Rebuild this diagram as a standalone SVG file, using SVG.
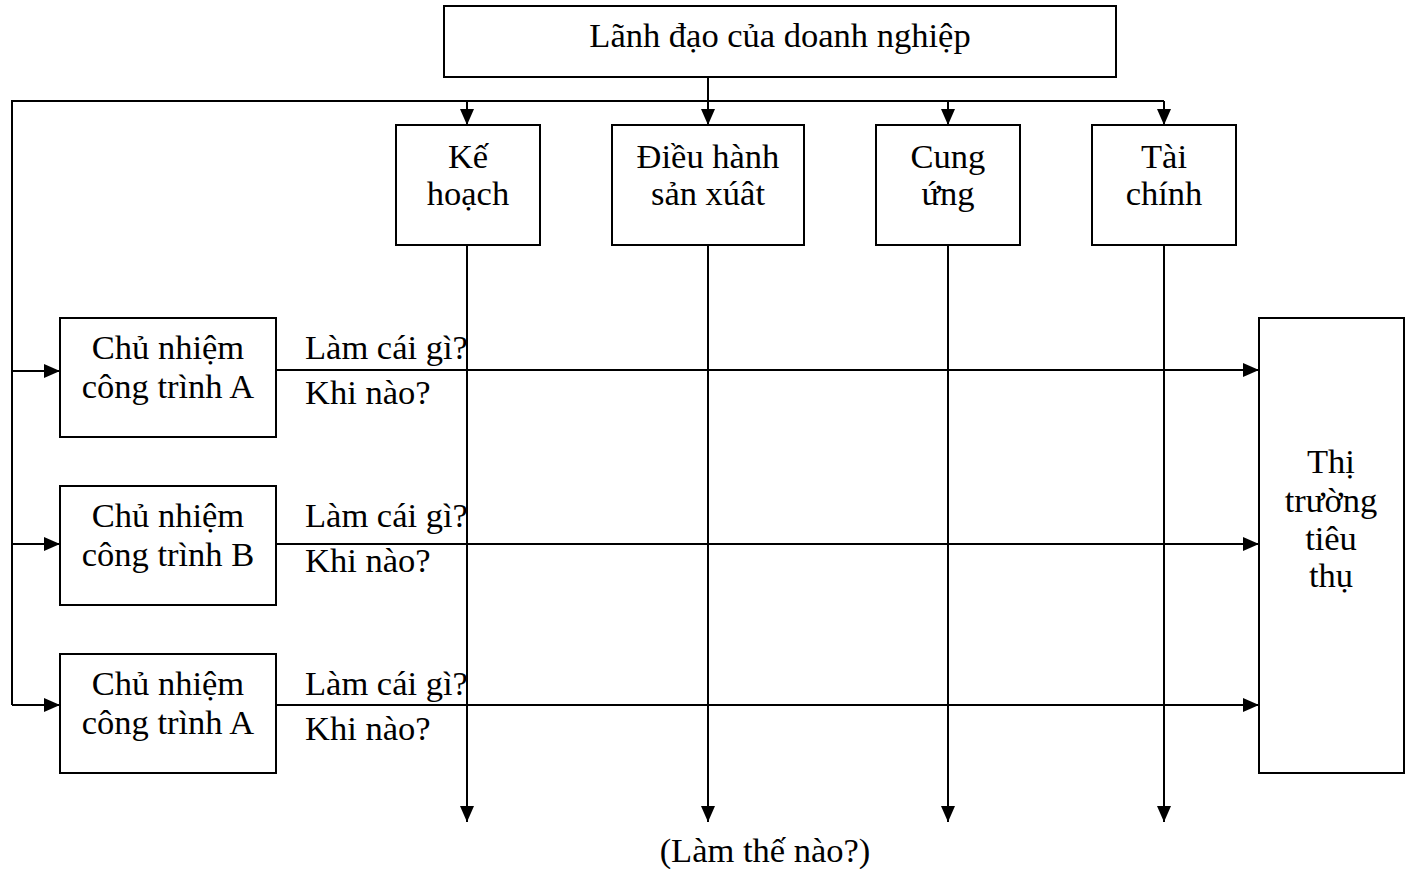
<svg xmlns="http://www.w3.org/2000/svg" width="1411" height="869" viewBox="0 0 1411 869">
<style>
.box{fill:#fff;stroke:#000;stroke-width:2}
.ln{fill:none;stroke:#000;stroke-width:2}
text{font-family:"Liberation Serif","Times New Roman",serif;font-size:34.5px;fill:#000}
.c{text-anchor:middle}
</style>
<defs>
<marker id="ahl" viewBox="0 0 16 14" refX="16" refY="7" markerWidth="16" markerHeight="14" markerUnits="userSpaceOnUse" orient="auto"><path d="M0,0 L16,7 L0,14 Z" fill="#000"/></marker>
</defs>
<rect width="1411" height="869" fill="#fff"/>
<g id="connectors">
<path class="ln" d="M708,77 V101"/>
<path class="ln" d="M12,705 V101 H1164"/>
<path class="ln" d="M467,101 V125" marker-end="url(#ahl)"/>
<path class="ln" d="M708,101 V125" marker-end="url(#ahl)"/>
<path class="ln" d="M948,101 V125" marker-end="url(#ahl)"/>
<path class="ln" d="M1164,101 V125" marker-end="url(#ahl)"/>
<path class="ln" d="M12,371 H60" marker-end="url(#ahl)"/>
<path class="ln" d="M12,544 H60" marker-end="url(#ahl)"/>
<path class="ln" d="M12,705 H60" marker-end="url(#ahl)"/>
<path class="ln" d="M276,370 H1259" marker-end="url(#ahl)"/>
<path class="ln" d="M276,544 H1259" marker-end="url(#ahl)"/>
<path class="ln" d="M276,705 H1259" marker-end="url(#ahl)"/>
<path class="ln" d="M467,245 V822" marker-end="url(#ahl)"/>
<path class="ln" d="M708,245 V822" marker-end="url(#ahl)"/>
<path class="ln" d="M948,245 V822" marker-end="url(#ahl)"/>
<path class="ln" d="M1164,245 V822" marker-end="url(#ahl)"/>
</g>
<g id="lanhdao"><rect class="box" x="444" y="6" width="672" height="71"/><text class="c" x="780" y="47">Lãnh đạo của doanh nghiệp</text></g>
<g id="kehoach"><rect class="box" x="396" y="125" width="144" height="120"/><text class="c" x="468" y="168">Kế</text><text class="c" x="468" y="205">hoạch</text></g>
<g id="dieuhanh"><rect class="box" x="612" y="125" width="192" height="120"/><text class="c" x="708" y="168">Điều hành</text><text class="c" x="708" y="205">sản xúât</text></g>
<g id="cungung"><rect class="box" x="876" y="125" width="144" height="120"/><text class="c" x="948" y="168">Cung</text><text class="c" x="948" y="205">ứng</text></g>
<g id="taichinh"><rect class="box" x="1092" y="125" width="144" height="120"/><text class="c" x="1164" y="168">Tài</text><text class="c" x="1164" y="205">chính</text></g>
<g id="cn1"><rect class="box" x="60" y="318" width="216" height="119"/><text class="c" x="168" y="359">Chủ nhiệm</text><text class="c" x="168" y="398">công trình A</text></g>
<g id="cn2"><rect class="box" x="60" y="486" width="216" height="119"/><text class="c" x="168" y="527">Chủ nhiệm</text><text class="c" x="168" y="566">công trình B</text></g>
<g id="cn3"><rect class="box" x="60" y="654" width="216" height="119"/><text class="c" x="168" y="695">Chủ nhiệm</text><text class="c" x="168" y="734">công trình A</text></g>
<g id="thitruong"><rect class="box" x="1259" y="318" width="145" height="455"/><text class="c" x="1331" y="473">Thị</text><text class="c" x="1331" y="512">trường</text><text class="c" x="1331" y="550">tiêu</text><text class="c" x="1331" y="587">thụ</text></g>
<g id="labels">
<text x="305" y="359">Làm cái gì?</text><text x="305" y="404">Khi nào?</text>
<text x="305" y="527">Làm cái gì?</text><text x="305" y="572">Khi nào?</text>
<text x="305" y="695">Làm cái gì?</text><text x="305" y="740">Khi nào?</text>
<text class="c" x="765" y="862">(Làm thế nào?)</text>
</g>
</svg>
